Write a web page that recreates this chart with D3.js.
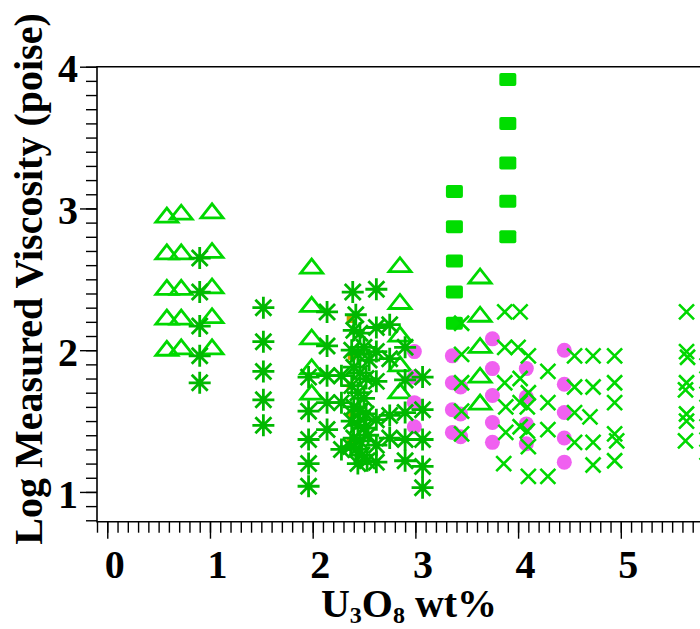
<!DOCTYPE html>
<html>
<head>
<meta charset="utf-8">
<script src="https://cdn.jsdelivr.net/npm/d3@7"></script>
<style>
  body { margin: 0; background: #fff; }
  svg { display: block; }
  text { font-family: "Liberation Serif", "Times New Roman", serif; font-weight: bold; fill: #000; }
</style>
</head>
<body>
<svg id="chart" width="700" height="629"></svg>
<script>
// series: [U3O8 wt%, log viscosity]
var triangles = [
  [0.58,2.95],[0.58,2.69],[0.58,2.44],[0.58,2.23],[0.58,2.01],
  [0.72,2.97],[0.72,2.69],[0.72,2.44],[0.72,2.23],[0.72,2.02],
  [1.02,2.98],[1.02,2.70],[1.02,2.45],[1.02,2.24],[1.02,2.02],
  [1.99,2.59],[1.99,2.32],[1.99,2.09],[1.99,1.88],[1.99,1.70],
  [2.85,2.60],[2.85,2.34],[2.85,2.11],[2.85,1.90],[2.85,1.71],
  [3.63,2.52],[3.63,2.25],[3.63,2.03],[3.63,1.82],[3.63,1.63]
];
var hidden = [[2.37,2.22],[2.38,1.96],[2.37,1.75],[2.38,1.55],[2.37,1.35]];
var squares = [
  [3.38,3.12],[3.38,2.87],[3.38,2.63],[3.38,2.41],[3.38,2.19],
  [3.90,3.91],[3.90,3.60],[3.90,3.32],[3.90,3.05],[3.90,2.80]
];
var circles = [
  [2.99,1.99],[2.99,1.81],[2.99,1.63],[2.99,1.46],
  [3.36,1.96],[3.36,1.77],[3.36,1.58],[3.36,1.42],
  [3.44,1.74],[3.44,1.55],[3.44,1.39],
  [3.75,2.08],[3.75,1.87],[3.75,1.68],[3.75,1.49],[3.75,1.35],
  [4.08,1.87],[4.08,1.67],[4.08,1.48],[4.08,1.34],
  [4.45,2.00],[4.45,1.76],[4.45,1.56],[4.45,1.38],[4.45,1.21]
];
var asterisks = [
  [0.90,2.65],[0.90,2.41],[0.90,2.17],[0.90,1.96],[0.90,1.77],
  [1.52,2.30],[1.52,2.06],[1.52,1.85],[1.52,1.65],[1.52,1.47],
  [1.96,1.81],[1.96,1.57],[1.96,1.37],[1.96,1.20],[1.96,1.04],
  [2.14,2.27],[2.14,2.03],[2.14,1.82],[2.14,1.63],[2.14,1.44],
  [2.28,1.82],[2.28,1.63],[2.28,1.30],
  [2.39,2.41],[2.42,2.25],[2.40,2.14],[2.46,2.12],[2.38,2.00],[2.44,1.97],
  [2.50,2.02],[2.40,1.88],[2.46,1.84],[2.52,1.80],[2.38,1.75],[2.44,1.70],
  [2.50,1.66],[2.40,1.60],[2.46,1.57],[2.38,1.50],[2.44,1.47],[2.50,1.45],
  [2.40,1.38],[2.46,1.36],[2.42,1.30],[2.54,1.40],[2.37,1.32],[2.44,1.20],
  [2.53,1.22],[2.48,1.26],[2.52,1.55],[2.55,1.93],
  [2.62,2.43],[2.62,2.16],[2.62,1.99],[2.62,1.78],[2.62,1.51],[2.62,1.33],[2.62,1.21],
  [2.75,2.18],[2.75,1.94],[2.75,1.54],[2.75,1.38],
  [2.90,2.02],[2.90,1.79],[2.90,1.56],[2.90,1.37],[2.90,1.22],
  [3.07,1.81],[3.07,1.58],[3.07,1.37],[3.07,1.18],[3.07,1.03]
];
var crosses = [
  [3.45,2.19],[3.45,1.97],[3.45,1.77],[3.45,1.57],[3.45,1.41],
  [3.87,2.27],[3.87,2.02],[3.87,1.77],[3.88,1.60],[3.88,1.42],[3.86,1.20],
  [4.02,2.27],[4.00,2.02],[4.02,1.80],[4.02,1.63],[4.02,1.46],
  [4.10,1.96],[4.10,1.70],[4.09,1.60],[4.09,1.43],[4.10,1.32],[4.10,1.11],
  [4.29,1.85],[4.29,1.63],[4.29,1.44],[4.29,1.11],
  [4.55,1.96],[4.55,1.74],[4.55,1.56],[4.55,1.35],
  [4.73,1.96],[4.73,1.74],[4.70,1.53],[4.73,1.35],[4.73,1.19],
  [4.94,1.96],[4.94,1.77],[4.94,1.63],[4.94,1.41],[4.96,1.36],[4.94,1.22],
  [5.64,2.27],[5.64,1.99],[5.65,1.95],[5.64,1.77],[5.63,1.72],[5.64,1.55],[5.64,1.50],[5.63,1.36],
  [5.84,1.89],[5.84,1.69],[5.84,1.46],[5.84,1.28]
];
var xMajor = [0, 1, 2, 3, 4, 5];
var yMajor = [1, 2, 3, 4];

var svg = d3.select("#chart");
var plotLeft = 97, plotTop = 66.7, plotBottom = 521.7;

var x = d3.scaleLinear().domain([-0.1, 6]).range([plotLeft, 723.5]);
var y = d3.scaleLinear().domain([0.79, 4]).range([plotBottom, plotTop]);

svg.append("rect").attr("width", 700).attr("height", 629).attr("fill", "#fff");

// ---- axes ----
var xMinor = d3.range(-1, 60).map(function(d) { return d / 10; });
var yMinor = d3.range(8, 41).map(function(d) { return d / 10; });

function styleAxis(g) {
  g.select(".domain").remove();
  g.selectAll("line").attr("stroke", "#000").attr("stroke-width", 1.4);
}

svg.append("g")
  .attr("transform", "translate(0," + plotBottom + ")")
  .call(d3.axisBottom(x).tickValues(xMinor).tickSize(11).tickSizeOuter(0).tickFormat(""))
  .call(styleAxis);
svg.append("g")
  .attr("transform", "translate(0," + plotBottom + ")")
  .call(d3.axisBottom(x).tickValues(xMajor).tickSize(17).tickSizeOuter(0).tickPadding(11).tickFormat(d3.format("d")))
  .call(styleAxis)
  .selectAll("text").attr("dx", 7).style("font-size", "40px").style("font-family", "Liberation Serif").style("font-weight", "bold");

svg.append("g")
  .attr("transform", "translate(" + plotLeft + ",0)")
  .call(d3.axisLeft(y).tickValues(yMinor).tickSize(11).tickSizeOuter(0).tickFormat(""))
  .call(styleAxis);
svg.append("g")
  .attr("transform", "translate(" + plotLeft + ",0)")
  .call(d3.axisLeft(y).tickValues(yMajor).tickSize(17).tickSizeOuter(0).tickPadding(2).tickFormat(d3.format("d")))
  .call(styleAxis)
  .selectAll("text").attr("dy", "0.38em").style("font-size", "40px").style("font-family", "Liberation Serif").style("font-weight", "bold");

// frame
svg.append("path")
  .attr("d", "M700," + plotTop + "H" + plotLeft + "V" + plotBottom + "H700")
  .attr("fill", "none").attr("stroke", "#000").attr("stroke-width", 1.6);

// ---- marks ----
var plot = svg.append("g");

plot.selectAll(".hid").data(hidden).enter().append("rect")
  .attr("x", function(d) { return x(d[0]) - 4; })
  .attr("y", function(d) { return y(d[1]) - 4; })
  .attr("width", 8).attr("height", 8)
  .attr("fill", "#d09a00");

plot.selectAll(".tri").data(triangles).enter().append("path")
  .attr("d", function(d) {
    var cx = x(d[0]), cy = y(d[1]);
    return "M" + (cx - 11) + "," + (cy + 6.5) + "L" + cx + "," + (cy - 7.5) + "L" + (cx + 11) + "," + (cy + 6.5) + "Z";
  })
  .attr("fill", "none").attr("stroke", "#00d800").attr("stroke-width", 2.8);

plot.selectAll(".sq").data(squares).enter().append("rect")
  .attr("x", function(d) { return x(d[0]) - 8.5; })
  .attr("y", function(d) { return y(d[1]) - 6.5; })
  .attr("width", 17).attr("height", 13).attr("rx", 2)
  .attr("fill", "#00dd00");

plot.selectAll(".ci").data(circles).enter().append("circle")
  .attr("cx", function(d) { return x(d[0]); })
  .attr("cy", function(d) { return y(d[1]); })
  .attr("r", 7.5)
  .attr("fill", "#f060f0");

plot.selectAll(".ast").data(asterisks).enter().append("path")
  .attr("d", function(d) {
    var cx = x(d[0]), cy = y(d[1]), r = 11, q = 8;
    return "M" + cx + "," + (cy - r) + "V" + (cy + r) +
      "M" + (cx - r) + "," + cy + "H" + (cx + r) +
      "M" + (cx - q) + "," + (cy - q) + "L" + (cx + q) + "," + (cy + q) +
      "M" + (cx - q) + "," + (cy + q) + "L" + (cx + q) + "," + (cy - q);
  })
  .attr("fill", "none").attr("stroke", "#00b800").attr("stroke-width", 2.8);

plot.selectAll(".cr").data(crosses).enter().append("path")
  .attr("d", function(d) {
    var cx = x(d[0]), cy = y(d[1]), r = 7.5;
    return "M" + (cx - r) + "," + (cy - r) + "L" + (cx + r) + "," + (cy + r) +
      "M" + (cx - r) + "," + (cy + r) + "L" + (cx + r) + "," + (cy - r);
  })
  .attr("fill", "none").attr("stroke", "#00d800").attr("stroke-width", 2.6);

// ---- titles ----
var xt = svg.append("text")
  .attr("x", 409).attr("y", 617)
  .attr("text-anchor", "middle")
  .style("font-size", "40px");
xt.append("tspan").text("U");
xt.append("tspan").attr("dy", 6).style("font-size", "24px").text("3");
xt.append("tspan").attr("dy", -6).text("O");
xt.append("tspan").attr("dy", 6).style("font-size", "24px").text("8");
xt.append("tspan").attr("dy", -6).text(" wt%");

svg.append("text")
  .attr("transform", "translate(42,279) rotate(-90)")
  .attr("text-anchor", "middle")
  .style("font-size", "40px")
  .text("Log Measured Viscosity (poise)");
</script>
</body>
</html>
